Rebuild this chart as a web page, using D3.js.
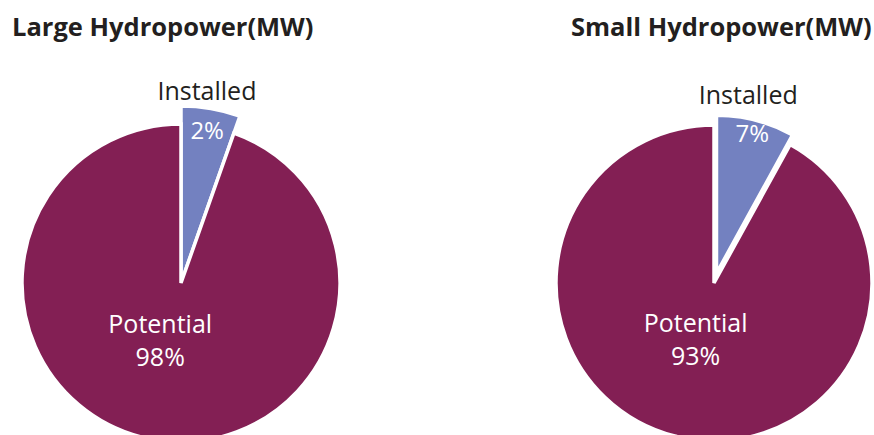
<!DOCTYPE html>
<html>
<head>
<meta charset="utf-8">
<script src="https://cdn.jsdelivr.net/npm/d3@7"></script>
<style>
  body { margin: 0; background: #fff; }
  text { font-family: "Open Sans", "Noto Sans", sans-serif; }
</style>
</head>
<body>
<div id="vis"></div>
<script>
// -------------------------------- Datos ----------------------
const titles = ["Large Hydropower(MW)", "Small Hydropower(MW)"];
const categories = ["Installed", "Potential"];
// share of each slice as drawn in the picture (installed, potential)
const largeShares = [5.4, 94.6];
const smallShares = [8, 92];
// percent labels printed on the picture
const largeLabels = ["2%", "98%"];
const smallLabels = ["7%", "93%"];

// -------------------------------- Parametros -------------------
const WIDTH = 874, HEIGHT = 435;
const COLOR = d3.scaleOrdinal().domain(categories).range(["#7381c0", "#831f54"]);

// one layout per pie
const charts = [
  {title: titles[0], shares: largeShares, labels: largeLabels,
   cx: 181, cy: 283, r: 159, grow: 18, explode: 0, titleX: 12, instDx: -7, potDx: -11},
  {title: titles[1], shares: smallShares, labels: smallLabels,
   cx: 714, cy: 283, r: 158, grow: 0, explode: 10, titleX: 571, instDx: -14, potDx: -4}
];

const svg = d3.select("#vis").append("svg")
  .attr("width", WIDTH)
  .attr("height", HEIGHT);

const pie = d3.pie().sort(null).value(d => d.value);

function createPie(c){
  const data = categories.map((k, i) => ({key: k, value: c.shares[i], label: c.labels[i]}));
  const arcs = pie(data);

  const g = svg.append("g")
    .attr("transform", "translate(" + c.cx + "," + c.cy + ")");

  const arcGen = d => d3.arc()
    .innerRadius(0)
    .outerRadius(d.data.key == "Installed" ? c.r + c.grow : c.r)(d);

  // desplazamiento de la rebanada "Installed"
  const shift = d => {
    if (d.data.key != "Installed") return "translate(0,0)";
    const p = d3.arc().innerRadius(c.explode).outerRadius(c.explode).centroid(d);
    return "translate(" + p[0] + "," + p[1] + ")";
  };

  g.selectAll(".slice")
    .data(arcs)
    .enter().append("path")
    .attr("class", "slice")
    .attr("d", arcGen)
    .attr("transform", shift)
    .style("fill", d => COLOR(d.data.key))
    .style("stroke", "#fff")
    .style("stroke-width", 3.5)
    .style("stroke-linejoin", "miter");

  const at = (d, rho) => d3.arc().innerRadius(rho).outerRadius(rho).centroid(d);

  const inst = arcs[0], pot = arcs[1];

  // etiquetas Installed
  const pName = at(inst, c.r + 36);
  g.append("text")
    .attr("x", pName[0] + c.instDx).attr("y", pName[1])
    .attr("text-anchor", "middle")
    .attr("dy", "0.35em")
    .style("font-size", "25px")
    .style("fill", "#231f20")
    .text(inst.data.key);

  const pVal = at(inst, c.r - 4);
  g.append("text")
    .attr("x", pVal[0]).attr("y", pVal[1])
    .attr("text-anchor", "middle")
    .attr("dy", "0.35em")
    .style("font-size", "24px")
    .style("fill", "#fff")
    .text(inst.data.label);

  // etiquetas Potential
  const pPot = at(pot, 58);
  const t = g.append("text")
    .attr("x", pPot[0] + c.potDx).attr("y", pPot[1])
    .attr("text-anchor", "middle")
    .style("font-size", "25px")
    .style("fill", "#fff");
  t.append("tspan").attr("x", pPot[0] + c.potDx).attr("dy", "-0.3em").text(pot.data.key);
  t.append("tspan").attr("x", pPot[0] + c.potDx).attr("dy", "1.35em").text(pot.data.label);

  svg.append("text")
    .attr("x", c.titleX)
    .attr("y", 36)
    .style("font-size", "25.5px")
    .style("font-weight", "bold")
    .style("fill", "#231f20")
    .text(c.title);
}

charts.forEach(createPie);
</script>
</body>
</html>
